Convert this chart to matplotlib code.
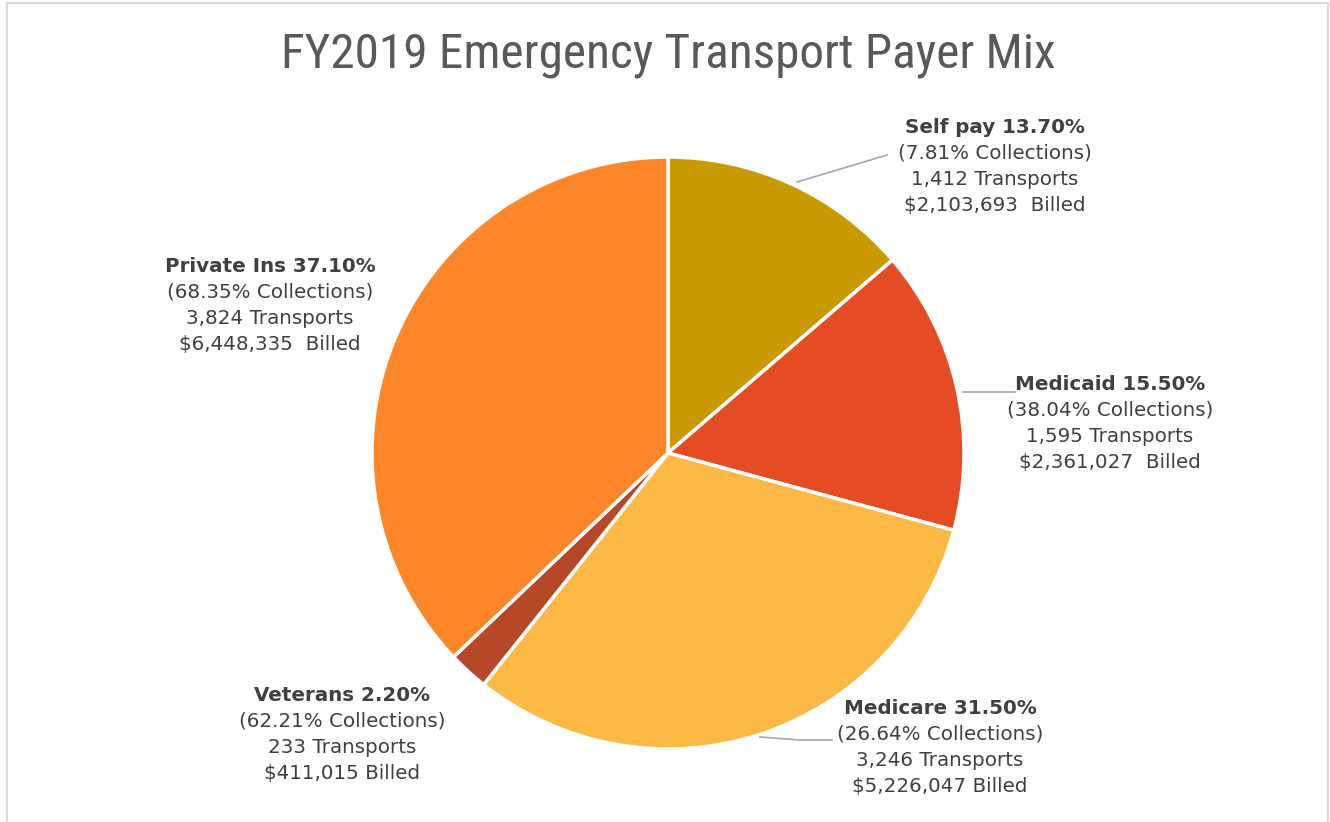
import matplotlib
matplotlib.use("Agg")
import matplotlib.pyplot as plt
from matplotlib.patches import Rectangle
from matplotlib import font_manager

names = ["Self pay", "Medicaid", "Medicare", "Veterans", "Private Ins"]
shares = [13.70, 15.50, 31.50, 2.20, 37.10]
collections = ["7.81%", "38.04%", "26.64%", "62.21%", "68.35%"]
transports = ["1,412", "1,595", "3,246", "233", "3,824"]
billed = ["$2,103,693  Billed", "$2,361,027  Billed", "$5,226,047 Billed",
          "$411,015 Billed", "$6,448,335  Billed"]
colors = ["#C99A00", "#E64C23", "#FDB946", "#B74827", "#FC8628"]
title = "FY2019 Emergency Transport Payer Mix"

W, H = 1330, 822
fig = plt.figure(figsize=(W / 100, H / 100), dpi=100)

# pie geometry in pixels
cx, cy, r = 668, 453, 296
ax = fig.add_axes([(cx - r) / W, (H - cy - r) / H, 2 * r / W, 2 * r / H])
ax.pie(shares, colors=colors, startangle=90, counterclock=False, radius=1.0,
       wedgeprops=dict(edgecolor="white", linewidth=2.5))
ax.set_xlim(-1, 1)
ax.set_ylim(-1, 1)
ax.set_aspect("equal")
ax.axis("off")

avail = {f.name for f in font_manager.fontManager.ttflist}
tfont = None
for cand in ["Roboto Condensed", "Liberation Sans Narrow", "DejaVu Sans Condensed",
             "Open Sans Condensed"]:
    if cand in avail:
        tfont = cand
        break
if tfont is None:
    tfont, tsize = "DejaVu Sans", 29
else:
    tsize = 35.5
lfont = "DejaVu Sans"

fig.text(668 / W, 1 - 55 / H, title, ha="center", va="center",
         fontsize=tsize, color="#595959", family=tfont, fontweight="normal")

def d(px, py):
    return ((px - cx) / r, (cy - py) / r)

# label block centers (pixel, first line y) and leader lines
label_pos = [(995, 127), (1110, 384), (940, 708), (342, 695), (270, 266)]
leaders = [[(797, 182), (887, 155)], [(963, 392), (1015, 392)],
           [(760, 737), (800, 740), (832, 740)], None, None]
lh = 26
for i in range(len(names)):
    px, py = label_pos[i]
    lines = [f"{names[i]} {shares[i]:.2f}%", f"({collections[i]} Collections)",
             f"{transports[i]} Transports", billed[i]]
    for j, t in enumerate(lines):
        x, y = d(px, py + j * lh)
        ax.text(x, y, t, ha="center", va="center", fontsize=14.3,
                color="#404040", family=lfont,
                fontweight="bold" if j == 0 else "normal", clip_on=False)
    if leaders[i]:
        pts = [d(*p) for p in leaders[i]]
        ax.plot([p[0] for p in pts], [p[1] for p in pts], color="#A6A6A6",
                lw=1.2, clip_on=False)

# chart border
fig.patches.append(Rectangle((7 / W, -0.01), (1328 - 7) / W, 1 - 3 / H + 0.01,
                             transform=fig.transFigure, fill=False,
                             edgecolor="#D9D9D9", lw=1.5))

fig.savefig("out.png", dpi=100, facecolor="white")
